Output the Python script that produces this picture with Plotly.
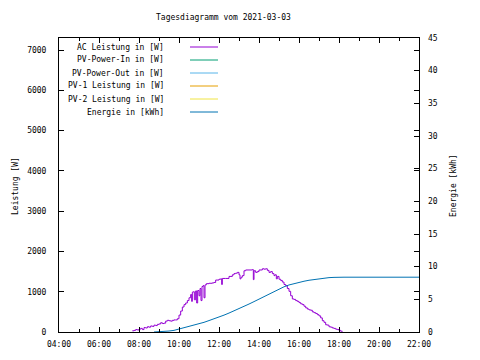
import plotly.graph_objects as go

DAY = "2021-03-03"

ac_times = ["07:40","07:45","07:50","07:55","08:00","08:05","08:10","08:15","08:20","08:25",
            "08:30","08:35","08:40","08:45","08:50","08:55","09:00","09:05","09:10","09:15",
            "09:20","09:25","09:30","09:35","09:40","09:45","09:50","09:55","10:00","10:05",
            "10:10","10:15","10:20","10:25","10:30","10:35","10:38","10:40","10:43","10:46",
            "10:50","10:53","10:56","11:00","11:03","11:06","11:09","11:12","11:15","11:18",
            "11:22","11:30","11:40","11:45","11:50","12:00","12:05","12:08","12:10","12:20",
            "12:30","12:40","12:45","12:50","12:55","13:00","13:03","13:06","13:10","13:15",
            "13:20","13:30","13:40","13:43","13:45","13:50","13:55","14:00","14:10","14:15",
            "14:20","14:25","14:30","14:35","14:40","14:45","14:48","14:52","14:55","15:00",
            "15:05","15:10","15:15","15:20","15:25","15:30","15:35","15:40","15:45","15:50",
            "15:55","16:00","16:05","16:10","16:15","16:20","16:25","16:30","16:35","16:40",
            "16:45","16:50","16:55","17:00","17:05","17:10","17:15","17:20","17:25","17:30",
            "17:35","17:40","17:45","17:50","17:55","18:00","18:05","18:10"]
ac_watts = [30,40,60,50,70,90,60,110,100,130,
            120,150,140,170,160,190,200,230,210,220,
            270,290,280,270,290,300,300,330,420,520,
            620,680,720,780,850,930,760,990,1000,800,
            1020,720,1030,900,1080,780,1130,1150,850,1170,
            1200,1210,1220,1230,1290,1310,1320,1180,1330,1330,
            1380,1420,1450,1460,1480,1420,1320,1360,1400,1520,
            1540,1540,1550,1300,1520,1480,1500,1540,1570,1560,
            1570,1530,1480,1500,1450,1400,1420,1320,1380,1310,
            1280,1240,1180,1150,1080,1010,900,820,810,780,
            760,730,700,680,640,600,570,550,540,500,
            480,460,430,400,350,280,240,180,170,130,
            120,100,90,70,60,40,20,10]

pv_in_watts = []
pv_out_watts = []
pv1_watts = []
pv2_watts = []

energy_times = ["08:45","09:00","09:15","09:30","09:45","10:00","10:15","10:30","10:45","11:00",
                "11:15","11:30","11:45","12:00","12:15","12:30","12:45","13:00","13:15","13:30",
                "13:45","14:00","14:15","14:30","14:45","15:00","15:15","15:30","15:45","16:00",
                "16:15","16:30","16:45","17:00","17:15","17:30","17:45","18:00","18:15","22:00"]
energy_kwh = [0.0,0.02,0.08,0.15,0.25,0.45,0.62,0.82,1.02,1.22,
              1.48,1.75,2.0,2.28,2.58,2.9,3.22,3.55,3.9,4.28,
              4.65,5.05,5.43,5.82,6.2,6.6,6.92,7.2,7.42,7.6,
              7.77,7.92,8.04,8.15,8.25,8.32,8.36,8.38,8.39,8.39]

x_tick_labels = ["04:00","06:00","08:00","10:00","12:00","14:00","16:00","18:00","20:00","22:00"]

legend_names = ["AC Leistung in [W]", "PV-Power-In in [W]", "PV-Power-Out in [W]",
                "PV-1 Leistung in [W]", "PV-2 Leistung in [W]", "Energie in [kWh]"]
colors = ["#9400d3", "#009e73", "#56b4e9", "#e69f00", "#f0e442", "#0072b2"]

def ts(t):
    return f"{DAY} {t}"

FONT = "DejaVu Sans Mono"
OFF = 8  # page body margin
W, H = 480 - 2 * OFF, 360 - 2 * OFF
PL, PT, PWID, PHGT = 59, 38, 360, 294  # plot area in page pixels
L, T = PL - OFF, PT - OFF
R = W - L - PWID
B = H - T - PHGT

def px(x):
    return (x - PL) / PWID

def py(y):
    return 1 - (y - PT) / PHGT

fig = go.Figure()
fig.add_trace(go.Scatter(x=[ts(t) for t in ac_times], y=ac_watts, mode="lines",
                         line=dict(color=colors[0], width=1, shape="hv"), name=legend_names[0]))
for vals, i in [(pv_in_watts, 1), (pv_out_watts, 2), (pv1_watts, 3), (pv2_watts, 4)]:
    fig.add_trace(go.Scatter(x=[], y=vals, mode="lines",
                             line=dict(color=colors[i], width=1), name=legend_names[i]))
fig.add_trace(go.Scatter(x=[ts(t) for t in energy_times], y=energy_kwh, mode="lines",
                         line=dict(color=colors[5], width=1), name=legend_names[5], yaxis="y2"))

tickvals = [ts(t) for t in x_tick_labels]

fig.update_layout(
    width=W, height=H, showlegend=False,
    margin=dict(l=L, r=R, t=T, b=B, autoexpand=False),
    paper_bgcolor="white", plot_bgcolor="white",
    font=dict(family=FONT, size=8, color="black"),
    xaxis=dict(type="date", range=[ts("04:00"), ts("22:00")], automargin=False,
               tickvals=tickvals, ticktext=x_tick_labels,
               ticks="inside", ticklen=5, tickcolor="black",
               minor=dict(dtick=3600000, ticks="inside", ticklen=3, tickcolor="black"),
               showline=True, linecolor="black", linewidth=1, mirror="ticks",
               showgrid=False, zeroline=False, ticklabelstandoff=4,
               tickfont=dict(family=FONT, size=8)),
    yaxis=dict(range=[0, 7300], dtick=1000, ticks="inside", ticklen=5, tickcolor="black",
               automargin=False,
               showline=True, linecolor="black", linewidth=1, mirror="ticks",
               showgrid=False, zeroline=False, ticklabelstandoff=10,
               tickfont=dict(family=FONT, size=8)),
    yaxis2=dict(range=[0, 45], dtick=5, overlaying="y", side="right", automargin=False,
                ticks="inside", ticklen=5, tickcolor="black",
                showline=False, showgrid=False, zeroline=False, ticklabelstandoff=8,
                tickfont=dict(family=FONT, size=8)),
)

annotations = [
    dict(text="Tagesdiagramm vom 2021-03-03", x=px(223), y=py(18), xref="paper", yref="paper",
         showarrow=False, xanchor="center", yanchor="middle", font=dict(size=8)),
    dict(text="Leistung [W]", x=px(15), y=py(186), xref="paper", yref="paper",
         showarrow=False, textangle=-90, xanchor="center", yanchor="middle", font=dict(size=8)),
    dict(text="Energie [kWh]", x=px(453), y=py(186), xref="paper", yref="paper",
         showarrow=False, textangle=-90, xanchor="center", yanchor="middle", font=dict(size=8)),
]
shapes = []
row_y = [47, 60, 73, 86, 99, 112]
for name, col, yy in zip(legend_names, colors, row_y):
    annotations.append(dict(text=name, x=px(166), y=py(yy), xref="paper", yref="paper",
                            showarrow=False, xanchor="right", yanchor="middle", font=dict(size=8)))
    shapes.append(dict(type="line", xref="paper", yref="paper", x0=px(190), x1=px(218),
                       y0=py(yy), y1=py(yy), line=dict(color=col, width=1)))
fig.update_layout(annotations=annotations, shapes=shapes)

fig.write_html("out.html")
